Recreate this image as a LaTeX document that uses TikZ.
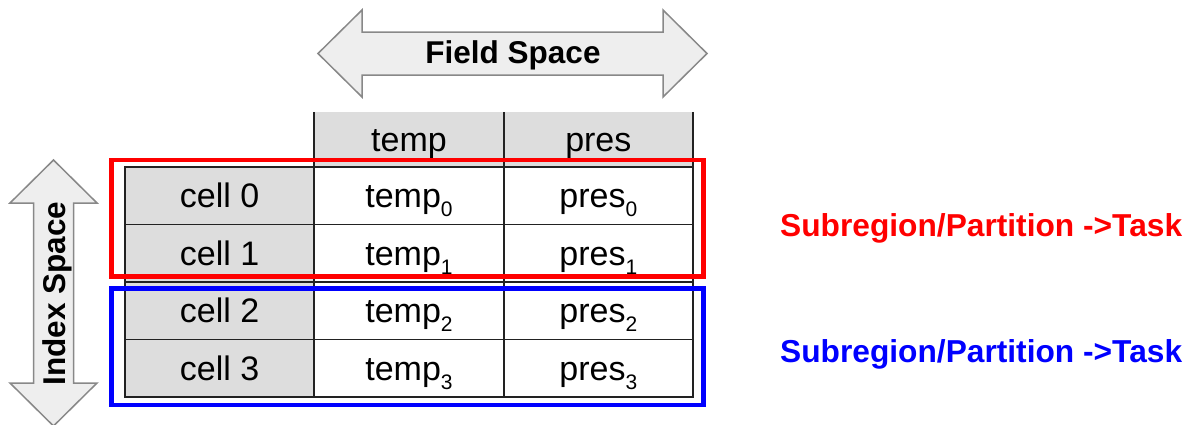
\documentclass[tikz,border=0pt]{standalone}
\usepackage{fontspec}
\setmainfont{Liberation Sans}
\definecolor{cellgray}{HTML}{DDDDDD}
\definecolor{arrowfill}{HTML}{EEEEEE}
\definecolor{arrowline}{HTML}{888888}
\definecolor{tline}{HTML}{222222}
\definecolor{pred}{HTML}{FF0000}
\definecolor{pblue}{HTML}{0000FF}
\newcommand{\subnum}[1]{\raisebox{-9pt}{\fontsize{21}{21}\selectfont #1}}
\tikzset{
  cellbox/.style={draw=tline, line width=1.8pt, minimum width=189.33pt, minimum height=57.5pt,
    inner sep=0pt, text height=24pt, text depth=0pt, font=\fontsize{34}{34}\selectfont},
  headbox/.style={fill=cellgray, minimum width=189.33pt, minimum height=54pt,
    inner sep=0pt, text height=24pt, text depth=0pt, font=\fontsize{34}{34}\selectfont},
  bigarrow/.style={fill=arrowfill, draw=arrowline, line width=1.5pt, line join=miter},
  spacelabel/.style={font=\bfseries\fontsize{31.5}{31.5}\selectfont, inner sep=0pt, anchor=base},
  partbox/.style={line width=4.3pt},
  partlabel/.style={font=\bfseries\fontsize{31.7}{31.7}\selectfont, inner sep=0pt, anchor=base west},
}
\begin{document}
\begin{tikzpicture}[x=1pt, y=-1pt]
\useasboundingbox (0,0) rectangle (1188,424);
% Field Space arrow
\draw[bigarrow] (318,53.5) -- (362,10) -- (362,32) -- (663,32) -- (663,10) -- (707,53.5)
  -- (663,97) -- (663,75) -- (362,75) -- (362,97) -- cycle;
\node[spacelabel] (field) at (513,63) {Field Space};
% Index Space arrow
\draw[bigarrow] (53.5,160) -- (97,203) -- (73.5,203) -- (73.5,383) -- (97,383) -- (53.5,426)
  -- (10,383) -- (33.5,383) -- (33.5,203) -- (10,203) -- cycle;
\node[spacelabel, rotate=90] (index) at (65,293.5) {Index Space};
% header
\node[headbox] (htemp) at (409,139) {temp};
\node[headbox] (hpres) at (598.33,139) {pres};
\draw[tline, line width=1.8pt] (htemp.north west) -- (htemp.south west);
\draw[tline, line width=1.8pt] (htemp.north east) -- (htemp.south east);
\draw[tline, line width=1.8pt] (hpres.north east) -- (hpres.south east);
% rows
\node[cellbox, fill=cellgray] (c0) at (219.67,195.75) {cell 0};
\node[cellbox] (t0) at (409,195.75) {temp\subnum{0}};
\node[cellbox] (p0) at (598.33,195.75) {pres\subnum{0}};
\node[cellbox, fill=cellgray] (c1) at (219.67,253.25) {cell 1};
\node[cellbox] (t1) at (409,253.25) {temp\subnum{1}};
\node[cellbox] (p1) at (598.33,253.25) {pres\subnum{1}};
\node[cellbox, fill=cellgray] (c2) at (219.67,310.75) {cell 2};
\node[cellbox] (t2) at (409,310.75) {temp\subnum{2}};
\node[cellbox] (p2) at (598.33,310.75) {pres\subnum{2}};
\node[cellbox, fill=cellgray] (c3) at (219.67,368.25) {cell 3};
\node[cellbox] (t3) at (409,368.25) {temp\subnum{3}};
\node[cellbox] (p3) at (598.33,368.25) {pres\subnum{3}};
% partition boxes
\draw[partbox, pred] (111.5,160) rectangle (703.5,276.5);
\draw[partbox, pblue] (111.5,288.5) rectangle (703.5,405);
% labels
\node[partlabel, text=pred] (lred) at (780,236) {Subregion/Partition ->Task};
\node[partlabel, text=pblue] (lblue) at (780,362) {Subregion/Partition ->Task};
\end{tikzpicture}
\end{document}
